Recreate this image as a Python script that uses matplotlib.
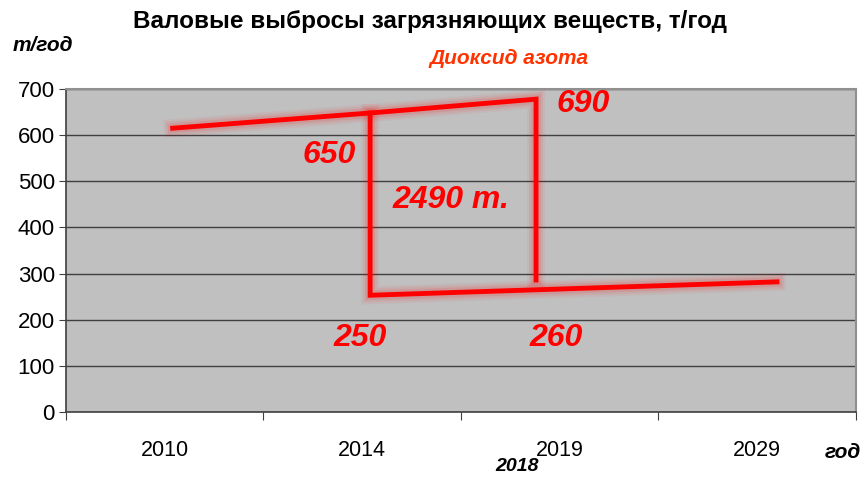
import numpy as np
import matplotlib.pyplot as plt
import matplotlib.patheffects as pe

plt.rcParams['font.family'] = ['Liberation Sans', 'DejaVu Sans']

years = ["2010", "2014", "2019", "2029"]
yticks = [0, 100, 200, 300, 400, 500, 600, 700]

# red annotation lines (x in category index units, y in t/year)
upper_x = [0.04, 1.04, 1.88, 1.88]
upper_y = [615, 648, 678, 286]
lower_x = [1.04, 1.04, 3.10]
lower_y = [648, 253, 282]

# value labels
lab_text = ["650", "690", "2490 т.", "250", "260"]
lab_x = [0.83, 2.12, 1.45, 0.99, 1.98]
lab_y = [557, 668, 460, 160, 160]

fig = plt.figure(figsize=(8.64, 4.79), dpi=100)
ax = fig.add_axes([0.0764, 0.1399, 0.9143, 0.6743])
ax.set_facecolor('#c0c0c0')
ax.set_xlim(-0.5, 3.5)
ax.set_ylim(0, 700)

ax.set_yticks(yticks)
ax.set_yticklabels([str(v) for v in yticks], fontsize=16)
ax.grid(axis='y', color='#404040', linewidth=1)
ax.set_axisbelow(True)

ax.set_xticks(np.arange(-0.5, 4, 1))
ax.set_xticklabels([])
ax.set_xticks(np.arange(len(years)), minor=True)
ax.set_xticklabels(years, minor=True, fontsize=15.5)
ax.tick_params(axis='x', which='minor', length=0, pad=20)
ax.tick_params(axis='x', which='major', length=6, color='#404040')
ax.tick_params(axis='y', length=5, color='#404040', pad=3)

for s in ['left', 'bottom']:
    ax.spines[s].set_color('#404040')
    ax.spines[s].set_linewidth(1.2)
for s in ['top', 'right']:
    ax.spines[s].set_color('#909090')
    ax.spines[s].set_linewidth(1.5)

# soft glow round the red lines
glow = [pe.Stroke(linewidth=13, foreground='#ff0000', alpha=0.05),
        pe.Stroke(linewidth=10, foreground='#ff0000', alpha=0.07),
        pe.Stroke(linewidth=7, foreground='#ff0000', alpha=0.1),
        pe.Normal()]
ax.plot(upper_x, upper_y, color='#ff0000', linewidth=3.5,
        solid_joinstyle='miter', path_effects=glow)
ax.plot(lower_x, lower_y, color='#ff0000', linewidth=3.5,
        solid_joinstyle='miter', path_effects=glow)

for t, x, y in zip(lab_text, lab_x, lab_y):
    ax.text(x, y, t, color='#ff0000', fontsize=23, fontweight='bold',
            fontstyle='italic', ha='center', va='center')

fig.text(0.498, 0.955, "Валовые выбросы загрязняющих веществ, т/год",
         fontsize=17.5, fontweight='bold', ha='center', va='center')
fig.text(0.015, 0.905, "т/год", fontsize=15, fontweight='bold',
         fontstyle='italic', ha='left', va='center')
fig.text(0.589, 0.878, "Диоксид азота", fontsize=15, fontweight='bold',
         fontstyle='italic', color='#ff3300', ha='center', va='center')
fig.text(0.997, 0.055, "год", fontsize=15, fontweight='bold',
         fontstyle='italic', ha='right', va='center')
fig.text(0.598, 0.027, "2018", fontsize=14, fontweight='bold',
         fontstyle='italic', ha='center', va='center')

fig.savefig('out.png', dpi=100)
